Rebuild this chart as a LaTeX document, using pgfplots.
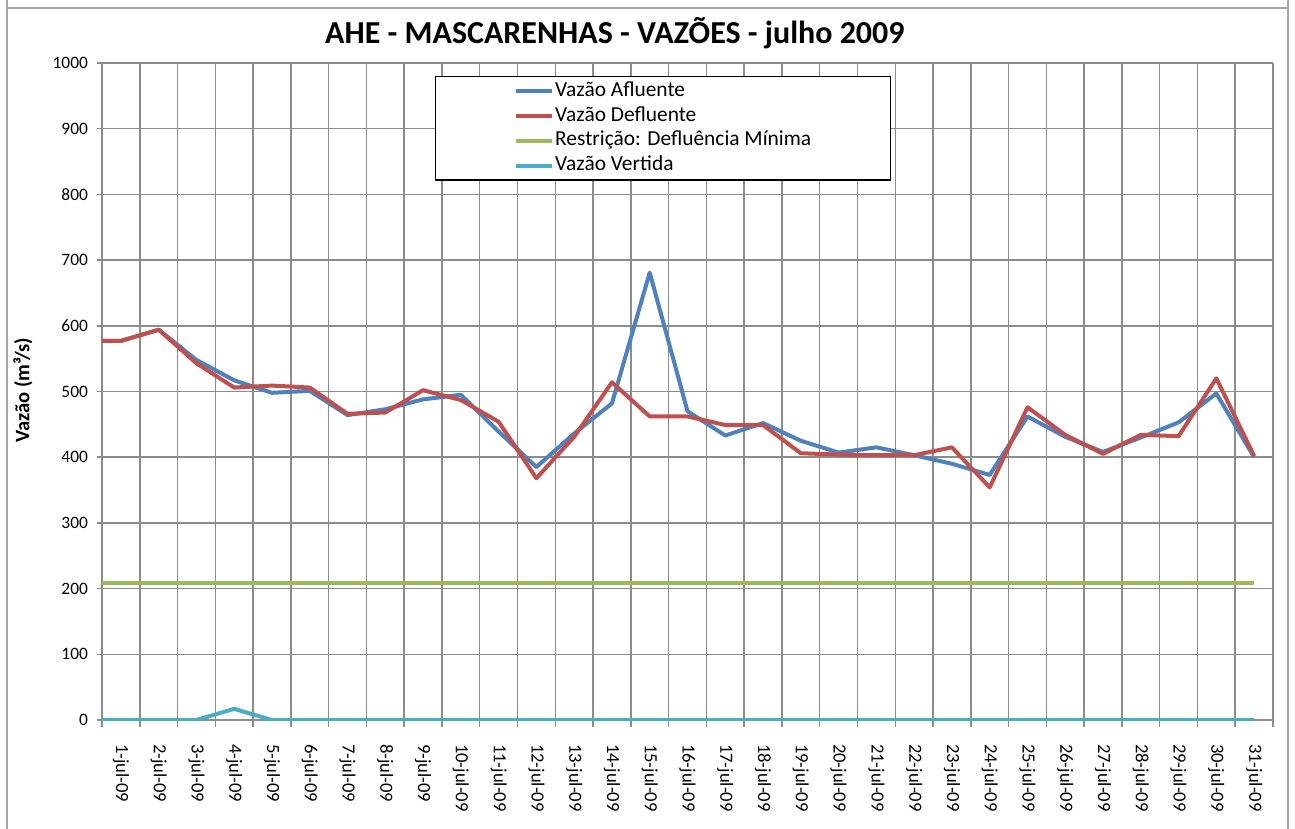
\documentclass[border=0pt]{standalone}
\usepackage{fontspec}
\setmainfont{Carlito}
\usepackage{pgfplots}
\pgfplotsset{compat=1.18}
\usepackage{pgfplotstable}

\definecolor{afl}{HTML}{4F81BD}
\definecolor{defl}{HTML}{C0504D}
\definecolor{restr}{HTML}{9BBB59}
\definecolor{vert}{HTML}{4BACC6}
\definecolor{gridc}{HTML}{8C8C8C}

% dia 0 = ultimo valor de junho (linha cortada na borda)
\pgfplotstableread{
dia afluente defluente restricao vertida
0  577 577 208 0
1  577 577 208 0
2  594 594 208 0
3  548 543 208 0
4  517 506 208 17
5  498 509 208 0
6  501 506 208 0
7  464 466 208 0
8  473 468 208 0
9  488 502 208 0
10 495 487 208 0
11 439 454 208 0
12 385 368 208 0
13 436 431 208 0
14 482 514 208 0
15 681 462 208 0
16 470 462 208 0
17 433 449 208 0
18 452 449 208 0
19 425 406 208 0
20 407 404 208 0
21 415 403 208 0
22 403 403 208 0
23 390 415 208 0
24 373 354 208 0
25 462 476 208 0
26 431 434 208 0
27 408 405 208 0
28 430 434 208 0
29 453 432 208 0
30 497 520 208 0
31 400 402 208 0
}\vazoes

\begin{document}
\begin{tikzpicture}
\path[use as bounding box] (-51pt,-54.5pt) rectangle (596.5pt,360pt);
\draw[gray!70,line width=0.75pt] (-47.5pt,-54.5pt) -- (-47.5pt,360pt);
\draw[gray!70,line width=0.75pt] (593pt,-54.5pt) -- (593pt,360pt);
\draw[gray!70,line width=0.75pt] (-47.5pt,356pt) -- (593pt,356pt);
\begin{axis}[
    at={(0,0)}, anchor=south west,
    scale only axis,
    width=585.5pt, height=328.5pt,
    xmin=0.5, xmax=31.5,
    ymin=0, ymax=1000,
    ytick={0,100,...,1000},
    xtick={1,...,31},
    xticklabels={1-jul-09,2-jul-09,3-jul-09,4-jul-09,5-jul-09,6-jul-09,7-jul-09,8-jul-09,9-jul-09,10-jul-09,11-jul-09,12-jul-09,13-jul-09,14-jul-09,15-jul-09,16-jul-09,17-jul-09,18-jul-09,19-jul-09,20-jul-09,21-jul-09,22-jul-09,23-jul-09,24-jul-09,25-jul-09,26-jul-09,27-jul-09,28-jul-09,29-jul-09,30-jul-09,31-jul-09},
    minor xtick={0.5,1.5,...,31.5},
    major x tick style={draw=none},
    xminorgrids, ymajorgrids,
    grid style={gridc, line width=0.75pt},
    minor grid style={gridc, line width=0.75pt},
    axis x line*=bottom, axis y line*=left,
    axis line style={gridc, line width=0.75pt},
    tick style={gridc, line width=0.75pt},
    tick align=outside,
    major tick length=2.5pt, minor tick length=3.5pt,
    /pgf/number format/assume math mode=true,
    /pgf/number format/1000 sep={},
    yticklabel style={font=\fontsize{8.7}{10}\selectfont, xshift=-1pt},
    xticklabel style={font=\fontsize{9.3}{10}\selectfont, rotate=-90, anchor=west, xshift=6pt},
    ylabel={Vazão (m³/s)},
    ylabel style={font=\fontsize{10.3}{12}\selectfont\bfseries, at={(axis description cs:-0.0675,0.502)}, anchor=center},
    title={AHE - MASCARENHAS - VAZÕES - julho 2009},
    title style={font=\fontsize{16}{18}\selectfont\bfseries, at={(axis description cs:0.438,1)}, anchor=base, yshift=3.5pt},
    legend style={at={(axis description cs:0.2844,0.980)}, anchor=north west,
      draw=black, line width=0.6pt, fill=white, inner xsep=39pt, inner ysep=1pt,
      font=\fontsize{10.7}{12}\selectfont, row sep=0pt,
      nodes={inner sep=0.8pt, text height=8pt, text depth=2.8pt}},
    legend cell align=left,
    legend image code/.code={\draw[#1, line width=2pt] (0pt,0pt) -- (18pt,0pt);},
    every axis plot/.append style={line width=2pt, line join=round},
  ]
\addplot[afl, mark=none] table[x=dia, y=afluente] {\vazoes};
\addlegendentry{Vazão Afluente}
\addplot[defl, mark=none] table[x=dia, y=defluente] {\vazoes};
\addlegendentry{Vazão Defluente}
\addplot[restr, mark=none] table[x=dia, y=restricao] {\vazoes};
\addlegendentry{Restrição: Defluência Mínima}
\addplot[vert, mark=none] table[x=dia, y=vertida] {\vazoes};
\addlegendentry{Vazão Vertida}
\end{axis}
\end{tikzpicture}
\end{document}
